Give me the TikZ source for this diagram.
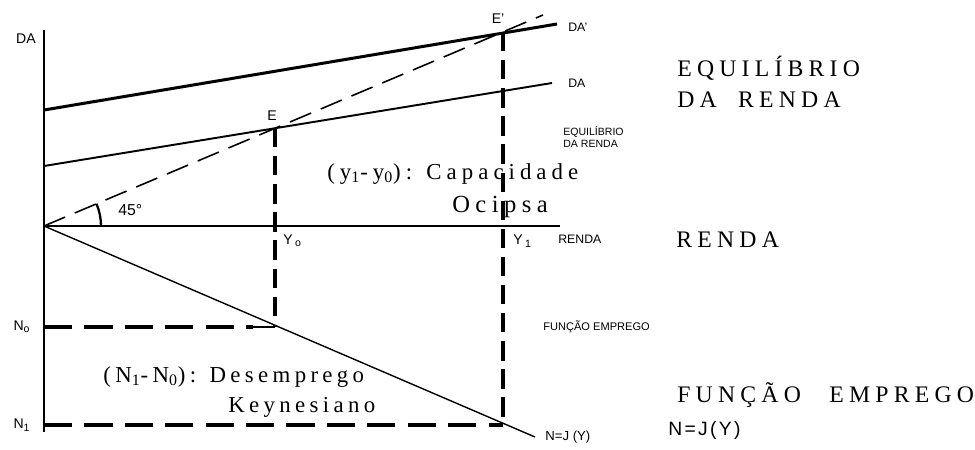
\documentclass[tikz,border=0pt]{standalone}
\usepackage{fontspec}
\setmainfont{Liberation Serif}
\setsansfont{Liberation Sans}
\newfontfamily\spacedserif[LetterSpace=22]{Liberation Serif}
\newfontfamily\notesserif[LetterSpace=19]{Liberation Serif}
\newfontfamily\spacedsans[LetterSpace=12]{Liberation Sans}
\usetikzlibrary{positioning}

\begin{document}
\begin{tikzpicture}[
    x=0.02cm, y=-0.02cm,
    lbl/.style={font=\sffamily\fontsize{8}{9}\selectfont, inner sep=0pt},
    tinylbl/.style={font=\sffamily\fontsize{6}{6.4}\selectfont, inner sep=0pt, align=left, anchor=west},
    title/.style={font=\spacedserif\fontsize{13.5}{15}\selectfont, inner sep=0pt, anchor=west},
    note/.style={font=\notesserif\fontsize{13}{15}\selectfont, inner sep=0pt, anchor=west},
    axis/.style={line width=0.8pt},
    curve/.style={line width=1.1pt},
    guide/.style={line width=2.8pt, dash pattern=on 11pt off 5pt},
    level/.style={line width=2pt, dash pattern=on 16pt off 7pt},
    ray/.style={line width=0.9pt, dash pattern=on 13pt off 6pt}]
    \useasboundingbox (0,0) rectangle (975,450);
    \coordinate (o) at (44,226);
    \coordinate (top) at (44,30);
    \coordinate (bot) at (44,432);
    \coordinate (xend) at (560,226);
    \coordinate (da0) at (44,166);
    \coordinate (da1) at (552,83);
    \coordinate (dap0) at (44,110);
    \coordinate (dap1) at (557,24);
    \coordinate (rayend) at (543,15);
    \coordinate (e) at (275,128);
    \coordinate (ep) at (503,32);
    \coordinate (y0) at (275,327);
    \coordinate (y1) at (503,425);
    \coordinate (n0) at (44,327);
    \coordinate (n1) at (44,425);
    \coordinate (n0b) at (253,327);
    \coordinate (jend) at (535,437);
    \draw[axis] (top) -- (bot);
    \draw[line width=1.4pt] (o) -- (xend);
    \draw[curve] (da0) -- (da1);
    \draw[line width=1.7pt] (dap0) -- (dap1);
    \draw[ray] (o) -- (rayend);
    \draw[axis] (o) -- (jend);
    \draw[guide] (e) -- (y0);
    \draw[guide] (ep) -- (y1);
    \draw[level] (n0) -- (n0b);
    \draw[axis] (n0b) -- (y0);
    \draw[level] (n1) -- (y1);
    \draw[line width=1.3pt] (101,226) arc[start angle=0, end angle=-23, radius=57];
    \node[lbl] (dalbl) at (26,39) {DA};
    \node[lbl, font=\sffamily\fontsize{7}{8}\selectfont, anchor=west] (daplbl) at (568,27) {DA'};
    \node[lbl, font=\sffamily\fontsize{7}{8}\selectfont, anchor=west] (da2lbl) at (568,83) {DA};
    \node[lbl] (elbl) at (272,116) {E};
    \node[lbl] (eplbl) at (498,19) {E'};
    \node[lbl, font=\sffamily\fontsize{9}{10}\selectfont, anchor=west] (ang) at (118,210) {45°};
    \node[lbl, anchor=west] (y0lbl) at (283,241) {Y\,\textsubscript{o}};
    \node[lbl, anchor=west] (y1lbl) at (513,241) {Y\,\textsubscript{1}};
    \node[lbl, anchor=west, font=\sffamily\fontsize{7}{8}\selectfont] (rlbl) at (558,239) {RENDA};
    \node[lbl] (n0lbl) at (22,327) {N\textsubscript{o}};
    \node[lbl] (n1lbl) at (22,425) {N\textsubscript{1}};
    \node[tinylbl] (eqlbl) at (563,137) {EQUILÍBRIO\\DA RENDA};
    \node[tinylbl, font=\sffamily\fontsize{6.3}{7}\selectfont] (fnlbl) at (543,327) {FUNÇÃO EMPREGO};
    \node[tinylbl, font=\sffamily\fontsize{7.5}{8}\selectfont] (njlbl) at (545,437) {N=J (Y)};
    \node[note, font=\spacedserif\fontsize{13}{15}\selectfont] (cap) at (327,174) {(y\textsubscript{1}-y\textsubscript{0}): Capacidade};
    \node[note, font=\spacedserif\fontsize{14}{15}\selectfont] (oci) at (452,207) {Ocipsa};
    \node[note] (des) at (103,377) {(N\textsubscript{1}-N\textsubscript{0}): Desemprego};
    \node[note] (key) at (228,407) {Keynesiano};
    \node[title] (t1) at (677,68) {EQUILÍBRIO};
    \node[title] (t2) at (677,100) {DA\hspace{0.9em}RENDA};
    \node[title] (t3) at (676,240) {RENDA};
    \node[title] (t4) at (677,395) {FUNÇÃO\hspace{1.2em}EMPREGO};
    \node[font=\spacedsans\fontsize{11}{13}\selectfont, inner sep=0pt, anchor=west] (nj) at (668,430) {N=J(Y)};
\end{tikzpicture}
\end{document}
